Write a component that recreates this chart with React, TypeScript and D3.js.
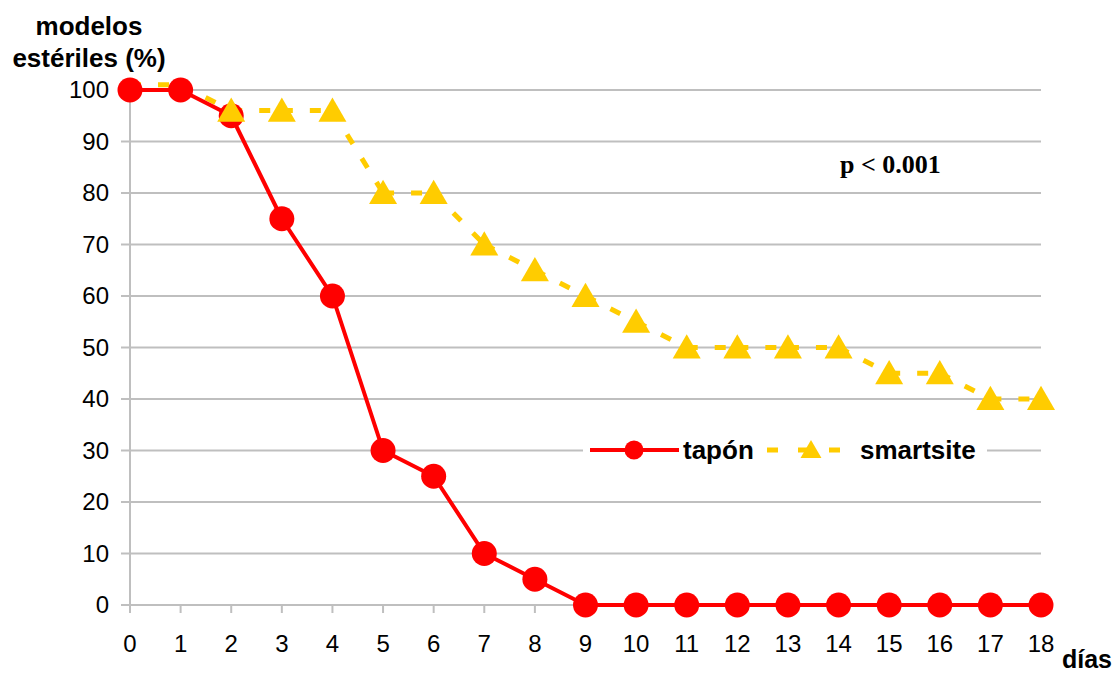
import React from "react";
import * as d3 from "d3";

const days = [0,1,2,3,4,5,6,7,8,9,10,11,12,13,14,15,16,17,18];
const tapon = [100,100,95,75,60,30,25,10,5,0,0,0,0,0,0,0,0,0,0];
const smartsite = [101,101,96,96,96,80,80,70,65,60,55,50,50,50,50,45,45,40,40];
const smartsiteMarkerFrom = 2;
const yTicks = [0,10,20,30,40,50,60,70,80,90,100];
const seriesNames = ["tapón", "smartsite"];
const yTitle = ["modelos", "estériles (%)"];
const xTitle = "días";
const note = "p < 0.001";

const W = 1116, H = 673;
const RED = "#FF0000";
const YEL = "#FFCC00";
const GRID = "#BFBFBF";
const SANS = "'Liberation Sans', Arial, sans-serif";
const SERIF = "'Liberation Serif', 'Times New Roman', serif";

export default function App() {
  const x = d3.scaleLinear().domain([0, 18]).range([130, 1041]);
  const y = d3.scaleLinear().domain([0, 100]).range([605, 90]);
  const lineT = d3.line<number>().x((_, i) => x(days[i])).y(d => y(d));
  const tri = d3.symbol().type(d3.symbolTriangle).size(340);
  const triLeg = d3.symbol().type(d3.symbolTriangle).size(190);

  const segs = smartsite.slice(0, -1).map((v, i) => ({
    x1: x(days[i]), y1: y(v), x2: x(days[i + 1]), y2: y(smartsite[i + 1]),
  }));

  return (
    <svg width={W} height={H} style={{ position: "absolute", left: 0, top: 0, display: "block", background: "#fff" }}>
      {/* gridlines */}
      {yTicks.map(t => (
        <g key={t}>
          {t > 0 && <line x1={x(0)} x2={x(18)} y1={y(t)} y2={y(t)} stroke={GRID} strokeWidth={2} />}
          <line x1={x(0) - 9} x2={x(0)} y1={y(t)} y2={y(t)} stroke={GRID} strokeWidth={2} />
          <text x={109} y={y(t)} dy="0.35em" textAnchor="end" fontFamily={SANS} fontSize={24} fill="#000">{t}</text>
        </g>
      ))}
      {/* axes */}
      <line x1={x(0)} x2={x(0)} y1={y(100)} y2={y(0)} stroke={GRID} strokeWidth={2} />
      <line x1={x(0) - 9} x2={x(18)} y1={y(0)} y2={y(0)} stroke={GRID} strokeWidth={2} />
      {days.map(d => (
        <g key={d}>
          <line x1={x(d)} x2={x(d)} y1={y(0)} y2={y(0) + 8} stroke={GRID} strokeWidth={2} />
          <text x={x(d)} y={y(0) + 47} textAnchor="middle" fontFamily={SANS} fontSize={24} fill="#000">{d}</text>
        </g>
      ))}

      {/* smartsite line (dash pattern restarts per segment) */}
      {segs.map((s, i) => (
        <line key={i} x1={s.x1} y1={s.y1} x2={s.x2} y2={s.y2} stroke={YEL} strokeWidth={5} strokeDasharray="11,17" />
      ))}

      {/* tapon series */}
      <path d={lineT(tapon) || ""} fill="none" stroke={RED} strokeWidth={4} strokeLinejoin="round" />
      {tapon.map((v, i) => (
        <circle key={i} cx={x(days[i])} cy={y(v)} r={12.5} fill={RED} />
      ))}

      {/* smartsite markers */}
      {smartsite.map((v, i) => i >= smartsiteMarkerFrom ? (
        <path key={i} d={tri() || ""} transform={`translate(${x(days[i])},${y(v) + 3})`} fill={YEL} />
      ) : null)}

      {/* legend */}
      <rect x={583} y={430} width={404} height={40} fill="#fff" />
      <line x1={590} x2={679} y1={450} y2={450} stroke={RED} strokeWidth={4} />
      <circle cx={634} cy={450} r={9.5} fill={RED} />
      <text x={683} y={459} fontFamily={SANS} fontWeight="bold" fontSize={26} fill="#000">{seriesNames[0]}</text>
      <line x1={767} x2={840} y1={450} y2={450} stroke={YEL} strokeWidth={5} strokeDasharray="11,20" />
      <path d={triLeg() || ""} transform={`translate(811,452)`} fill={YEL} />
      <text x={860} y={459} fontFamily={SANS} fontWeight="bold" fontSize={26} fill="#000">{seriesNames[1]}</text>

      {/* titles */}
      <text x={89} y={35} textAnchor="middle" fontFamily={SANS} fontWeight="bold" fontSize={26} fill="#000">{yTitle[0]}</text>
      <text x={89} y={67} textAnchor="middle" fontFamily={SANS} fontWeight="bold" fontSize={26} fill="#000">{yTitle[1]}</text>
      <text x={1062} y={668} fontFamily={SANS} fontWeight="bold" fontSize={25} fill="#000">{xTitle}</text>
      <text x={840} y={173} fontFamily={SERIF} fontWeight="bold" fontSize={26} fill="#000">{note}</text>
    </svg>
  );
}
